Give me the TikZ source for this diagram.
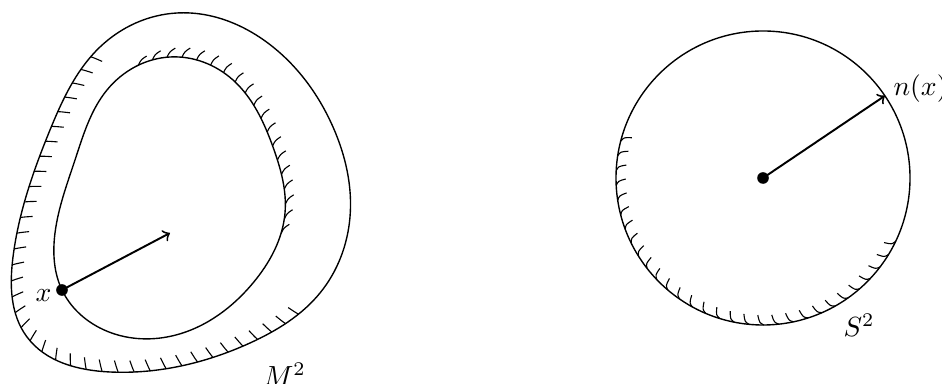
\documentclass[tikz,border=0pt]{standalone}
\usepackage{amsmath,amssymb}
\usepackage{tikz}
\usetikzlibrary{decorations.markings,calc,hobby}

\begin{document}
\begin{tikzpicture}[x=0.0127cm,y=0.0127cm,
  curve/.style={line width=0.5pt},
  arr/.style={->,line width=0.7pt},
  dot/.style={circle,fill=black,inner sep=0pt,minimum size=4.2pt},
  lbl/.style={inner sep=0pt,anchor=base west},
  hatchout/.style={postaction={decorate,decoration={markings,
      mark=between positions 0.09 and 0.635 step 5.8pt with {\draw[thin] (0,0) .. controls (-0.6pt,1.6pt) .. (-1.4pt,4.2pt);}}}},
  hatchin/.style={postaction={decorate,decoration={markings,
      mark=between positions 0.05 and 0.39 step 5.4pt with {\pgftransformresetnontranslations
        \draw[thin] (0,0) .. controls (1pt,2pt) .. (3pt,3.3pt);}}}},
  hatchsph/.style={decorate,decoration={markings,
      mark=between positions 0.02 and 1 step 5.4pt with {\draw[thin] (0,0) .. controls (-1.6pt,0.8pt) .. (-2.2pt,3.6pt);}}}
]
\useasboundingbox (0,0) rectangle (942,384);

% the surface M^2
\draw[curve,hatchout,use Hobby shortcut,closed=true] (177,371) .. (100,337) .. (50,254) .. (13,127) .. (27,47) .. (110,12) .. (250,41) .. (320,91) .. (350,167) .. (333,257) .. (273,337);
\draw[curve,hatchin,use Hobby shortcut,closed=true] (107,294) .. (170,327) .. (233,304) .. (273,237) .. (285,171) .. (253,101) .. (167,47) .. (100,56) .. (62,94) .. (55,151) .. (75,224);

\node[dot] (xpt) at (62,94) {};
\coordinate (vtip) at (170,151);
\draw[arr] (xpt.center) -- (vtip);
\node[lbl] (xlab) at (35,82) {$x$};
\node[lbl] (mlab) at (263,-2) {$M^2$};

% the Gauss map image on S^2
\coordinate (ctr) at (763,206);
\draw[curve] (ctr) circle[radius=147];
\path[hatchsph] (ctr) ++(162:147) arc[start angle=162,end angle=336,radius=147];
\node[dot] (cdot) at (ctr) {};
\coordinate (ntip) at ($(ctr)+(34:147)$);
\draw[arr] (cdot.center) -- (ntip);
\node[lbl] (nlab) at (893,288) {$n(x)$};
\node[lbl] (slab) at (843,47) {$S^2$};
\end{tikzpicture}
\end{document}
